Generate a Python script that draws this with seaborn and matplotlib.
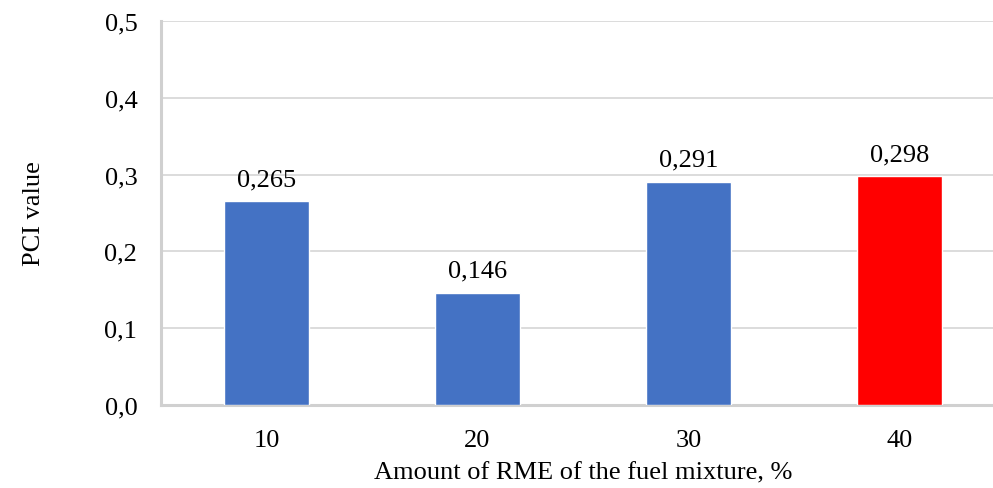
import matplotlib
matplotlib.use("Agg")
import matplotlib.pyplot as plt
import seaborn as sns
import pandas as pd

categories = ["10", "20", "30", "40"]
pci_values = [0.265, 0.146, 0.291, 0.298]
bar_colors = ["#4472C4", "#4472C4", "#4472C4", "#FF0000"]
y_ticks = [0.0, 0.1, 0.2, 0.3, 0.4, 0.5]

sns.set_theme(style="white")
plt.rcParams["font.family"] = ["Liberation Serif", "DejaVu Serif"]
plt.rcParams["text.color"] = "black"
plt.rcParams["xtick.color"] = "black"
plt.rcParams["ytick.color"] = "black"
plt.rcParams["axes.labelcolor"] = "black"

FS = 19

df = pd.DataFrame({"rme": categories, "pci": pci_values})

fig = plt.figure(figsize=(9.93, 4.89), dpi=100)
ax = fig.add_axes([0.1621, 0.1697, 0.85, 0.7853])

sns.barplot(data=df, x="rme", y="pci", hue="rme", palette=bar_colors,
            legend=False, width=0.4, saturation=1, ax=ax, zorder=3)

ax.set_ylim(0, 0.5)
ax.set_yticks(y_ticks)
ax.set_yticklabels([f"{v:.1f}".replace(".", ",") for v in y_ticks], fontsize=FS)
ax.tick_params(axis="x", labelsize=FS, length=0, pad=17)
ax.tick_params(axis="y", length=0, pad=17)
ax.yaxis.grid(True, color="#D9D9D9", linewidth=1.3, zorder=0)
ax.set_axisbelow(True)

for s in ["top", "right"]:
    ax.spines[s].set_visible(False)
for s in ["left", "bottom"]:
    ax.spines[s].set_color("#D0D0D0")
    ax.spines[s].set_linewidth(2.2)

for i, v in enumerate(pci_values):
    ax.annotate(f"{v:.3f}".replace(".", ","), (i, v), xytext=(0, 8),
                textcoords="offset points", ha="center", va="bottom", fontsize=FS)

ax.set_xlabel("Amount of RME of the fuel mixture, %", fontsize=FS, labelpad=8)
ax.set_ylabel("PCI value", fontsize=FS, labelpad=43)

fig.savefig("out.png", dpi=100)
